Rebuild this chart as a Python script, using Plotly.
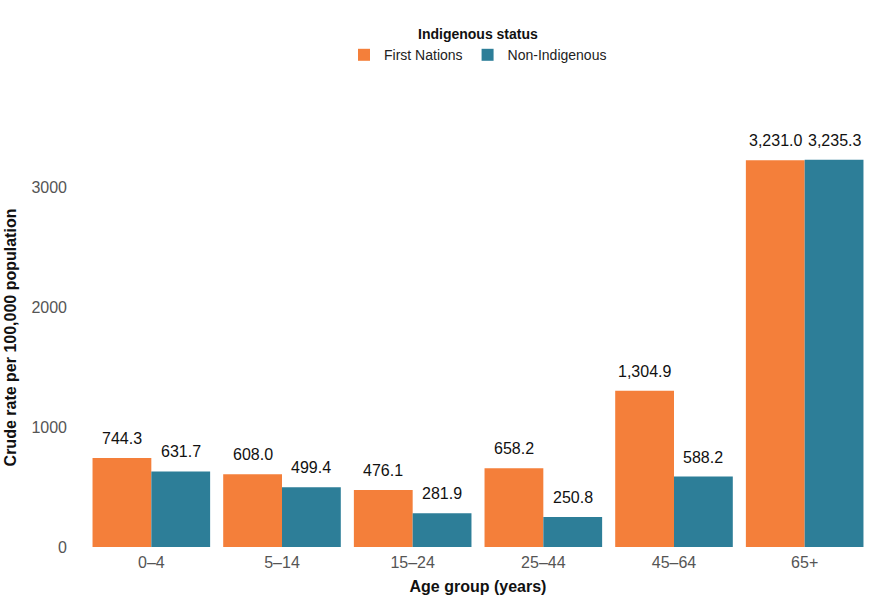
import plotly.graph_objects as go

age_groups = ["0–4", "5–14", "15–24", "25–44", "45–64", "65+"]
first_nations = [744.3, 608.0, 476.1, 658.2, 1304.9, 3231.0]
non_indigenous = [631.7, 499.4, 281.9, 250.8, 588.2, 3235.3]

series_names = ["First Nations", "Non-Indigenous"]
colors = ["#F47F3A", "#2D7E98"]

# layout geometry
plot_left, plot_right = 86, 870
bargap = 0.1
cat_px = (plot_right - plot_left) / len(age_groups)
bar_px = cat_px * (1 - bargap) / 2
shifts = [-bar_px / 2, bar_px / 2]

fig = go.Figure()
for name, vals, col, dx in zip(series_names, [first_nations, non_indigenous], colors, shifts):
    fig.add_trace(go.Bar(
        x=age_groups, y=vals, name=name, marker_color=col,
        marker_line_width=0,
    ))
    for cat, v in zip(age_groups, vals):
        fig.add_annotation(
            x=cat, y=v, text=f"{v:,.1f}", showarrow=False,
            xshift=dx, yshift=9, yanchor="bottom", xanchor="center",
            font=dict(size=16, color="#111111"),
        )

fig.update_layout(
    width=890, height=600,
    barmode="group", bargap=bargap, bargroupgap=0,
    plot_bgcolor="white", paper_bgcolor="white",
    font=dict(family="Liberation Sans, Arial, sans-serif", size=14, color="#333"),
    margin=dict(l=plot_left, r=890 - plot_right, t=128, b=53, autoexpand=False),
    legend=dict(
        orientation="h", x=0.5, xanchor="center",
        yref="container", y=0.965, yanchor="top",
        title=dict(text="<b>Indigenous status</b>", side="top center", font=dict(size=14, color="#111")),
        font=dict(size=14, color="#222"),
        itemwidth=30, traceorder="normal", tracegroupgap=0,
    ),
    xaxis=dict(
        title=dict(text="<b>Age group (years)</b>", font=dict(size=16, color="#111"), standoff=10),
        tickfont=dict(size=16, color="#555"), showgrid=False, showline=False, ticks="",
        ticklabelstandoff=4,
    ),
    yaxis=dict(
        title=dict(text="<b>Crude rate per 100,000 population</b>", font=dict(size=16, color="#111"), standoff=10),
        tickfont=dict(size=16, color="#555"), showgrid=False, showline=False, zeroline=False,
        range=[0, 3500], tickvals=[0, 1000, 2000, 3000], ticks="",
        ticklabelstandoff=18,
    ),
)

fig.write_html("out.html")
